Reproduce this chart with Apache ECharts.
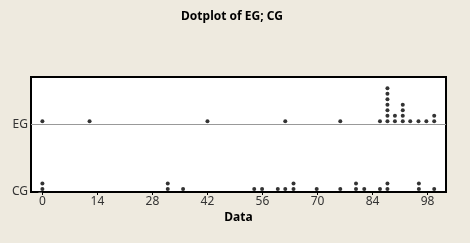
<!DOCTYPE html>
<html>
<head>
<meta charset="utf-8">
<script src="https://cdn.jsdelivr.net/npm/echarts@6/dist/echarts.min.js"></script>
<style>
html,body{margin:0;padding:0;background:#EEEADF;}
#c{width:470px;height:243px;}
</style>
</head>
<body>
<div id="c"></div>
<script>
// Dotplot bins (value of bin, number of stacked dots)
var egValues = [0, 12, 42, 61.8, 75.8, 85.9, 87.8, 89.7, 91.7, 93.6, 95.7, 97.7, 99.7];
var egCounts = [1, 1, 1, 1, 1, 1, 7, 2, 4, 1, 1, 1, 2];
var cgValues = [0, 31.9, 35.8, 53.9, 55.9, 59.9, 61.8, 63.9, 69.8, 75.8, 79.8, 81.9, 85.9, 87.8, 95.8, 99.7];
var cgCounts = [2, 2, 1, 1, 1, 1, 1, 2, 1, 1, 2, 1, 1, 2, 2, 1];
var xTicks = [0, 14, 28, 42, 56, 70, 84, 98];
var groupNames = ['CG', 'EG'];
var groupBase = [0, 12.3];

function stack(values, counts, base) {
  var pts = [];
  for (var i = 0; i < values.length; i++) {
    for (var k = 0; k < counts[i]; k++) {
      pts.push([values[i], base + 0.55 + k]);
    }
  }
  return pts;
}

var chart = echarts.init(document.getElementById('c'), null, {renderer: 'canvas'});
var font = 'Noto Sans';
chart.setOption({
  animation: false,
  backgroundColor: '#EEEADF',
  title: {
    text: 'Dotplot of EG; CG',
    left: 227, top: 6, textAlign: 'center',
    textStyle: {fontFamily: font, fontSize: 12, fontWeight: 'bold', color: '#000'}
  },
  grid: {
    left: 31, right: 24, top: 77, bottom: 51,
    show: true, backgroundColor: '#fff', borderColor: '#000', borderWidth: 2
  },
  xAxis: {
    type: 'value', min: -2.9, max: 102.7,
    name: 'Data', nameLocation: 'middle', nameGap: 20,
    nameTextStyle: {fontFamily: font, fontSize: 12, fontWeight: 'bold', color: '#000'},
    axisLine: {show: false},
    splitLine: {show: false},
    axisTick: {show: true, customValues: xTicks, length: 3, lineStyle: {color: '#000'}},
    axisLabel: {customValues: xTicks, fontFamily: font, fontSize: 12, color: '#333', margin: 4}
  },
  yAxis: {
    type: 'value', min: 0, max: 20.9,
    axisLine: {show: false},
    splitLine: {show: false},
    axisTick: {show: true, customValues: groupBase, length: 4, lineStyle: {color: '#555'}},
    axisLabel: {
      customValues: groupBase, fontFamily: font, fontSize: 12, color: '#333', margin: 3,
      formatter: function (v) { return v === 0 ? groupNames[0] : groupNames[1]; }
    }
  },
  series: [
    {
      type: 'scatter', name: 'EG', data: stack(egValues, egCounts, groupBase[1]),
      symbol: 'circle', symbolSize: 4, itemStyle: {color: '#000'},
      markLine: {
        silent: true, symbol: 'none', label: {show: false},
        lineStyle: {color: '#999', width: 1, type: 'solid'},
        data: [{yAxis: groupBase[1]}]
      }
    },
    {
      type: 'scatter', name: 'CG', data: stack(cgValues, cgCounts, groupBase[0]),
      symbol: 'circle', symbolSize: 4, itemStyle: {color: '#000'}
    }
  ]
});
</script>
</body>
</html>
